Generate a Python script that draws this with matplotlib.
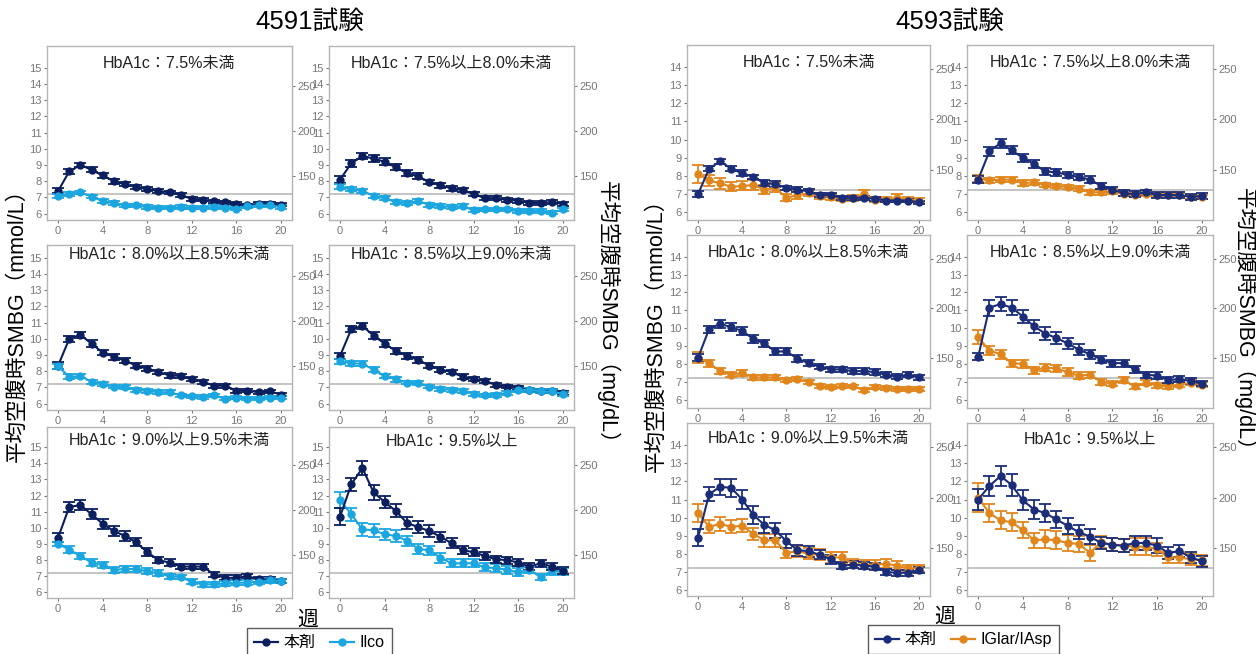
import matplotlib
matplotlib.use("Agg")
import matplotlib.pyplot as plt
from matplotlib.lines import Line2D

plt.rcParams['font.family'] = ['Liberation Sans', 'Noto Sans CJK JP', 'DejaVu Sans']

# ---- data (mmol/L, weeks 0..20) ----
weeks = list(range(21))
x_ticks = [0, 4, 8, 12, 16, 20]
mg_ticks = [150, 200, 250]
target_mmol = 7.22

titles = ["HbA1c：7.5%未満", "HbA1c：7.5%以上8.0%未満", "HbA1c：8.0%以上8.5%未満",
          "HbA1c：8.5%以上9.0%未満", "HbA1c：9.0%以上9.5%未満", "HbA1c：9.5%以上"]

# 4591 trial: 本剤 vs Ilco
a1_hon = [7.4, 8.6, 9.0, 8.7, 8.35, 8.0, 7.8, 7.65, 7.5, 7.4, 7.3, 7.15, 6.9, 6.85, 6.75, 6.7, 6.6, 6.5, 6.6, 6.6, 6.55]
a1_hon_se = [0.15, 0.15, 0.15, 0.15, 0.15, 0.15, 0.13, 0.13, 0.12, 0.12, 0.12, 0.12, 0.12, 0.1, 0.1, 0.1, 0.1, 0.1, 0.1, 0.1, 0.1]
a1_ilco = [7.1, 7.2, 7.3, 7.05, 6.75, 6.65, 6.5, 6.5, 6.4, 6.35, 6.35, 6.4, 6.35, 6.35, 6.4, 6.35, 6.3, 6.45, 6.5, 6.5, 6.4]
a1_ilco_se = [0.12, 0.12, 0.12, 0.12, 0.12, 0.12, 0.1, 0.1, 0.1, 0.1, 0.1, 0.1, 0.1, 0.1, 0.1, 0.1, 0.1, 0.1, 0.1, 0.1, 0.1]

a2_hon = [8.1, 9.1, 9.55, 9.4, 9.2, 8.85, 8.5, 8.3, 7.95, 7.75, 7.55, 7.45, 7.2, 6.95, 6.95, 6.85, 6.8, 6.65, 6.65, 6.7, 6.6]
a2_hon_se = [0.2, 0.2, 0.2, 0.2, 0.2, 0.18, 0.18, 0.18, 0.15, 0.15, 0.15, 0.15, 0.12, 0.12, 0.12, 0.12, 0.12, 0.12, 0.12, 0.12, 0.12]
a2_ilco = [7.65, 7.5, 7.4, 7.1, 6.95, 6.7, 6.65, 6.75, 6.55, 6.45, 6.4, 6.45, 6.2, 6.25, 6.25, 6.25, 6.15, 6.15, 6.15, 6.05, 6.25]
a2_ilco_se = [0.15, 0.12, 0.12, 0.12, 0.12, 0.12, 0.12, 0.12, 0.12, 0.12, 0.12, 0.12, 0.12, 0.1, 0.1, 0.1, 0.1, 0.1, 0.1, 0.1, 0.1]

a3_hon = [8.35, 10.0, 10.25, 9.7, 9.15, 8.9, 8.65, 8.35, 8.15, 7.95, 7.75, 7.7, 7.5, 7.35, 7.1, 7.1, 6.8, 6.8, 6.7, 6.75, 6.55]
a3_hon_se = [0.2, 0.2, 0.2, 0.2, 0.18, 0.18, 0.15, 0.15, 0.15, 0.15, 0.15, 0.12, 0.12, 0.12, 0.12, 0.12, 0.12, 0.1, 0.1, 0.1, 0.1]
a3_ilco = [8.3, 7.65, 7.7, 7.35, 7.2, 7.05, 7.0, 6.85, 6.8, 6.7, 6.7, 6.5, 6.45, 6.4, 6.5, 6.3, 6.35, 6.3, 6.3, 6.35, 6.35]
a3_ilco_se = [0.15, 0.15, 0.15, 0.12, 0.12, 0.12, 0.12, 0.12, 0.12, 0.12, 0.12, 0.1, 0.1, 0.1, 0.1, 0.1, 0.1, 0.1, 0.1, 0.1, 0.1]

a4_hon = [8.95, 10.6, 10.8, 10.2, 9.7, 9.25, 8.95, 8.7, 8.35, 8.1, 7.95, 7.65, 7.5, 7.4, 7.15, 7.05, 6.95, 6.85, 6.75, 6.8, 6.65]
a4_hon_se = [0.2, 0.2, 0.2, 0.2, 0.2, 0.18, 0.18, 0.18, 0.18, 0.15, 0.15, 0.15, 0.12, 0.12, 0.12, 0.12, 0.12, 0.12, 0.12, 0.12, 0.12]
a4_ilco = [8.6, 8.5, 8.45, 8.1, 7.7, 7.5, 7.3, 7.25, 7.05, 6.9, 6.85, 6.8, 6.6, 6.5, 6.55, 6.65, 6.85, 6.85, 6.75, 6.75, 6.6]
a4_ilco_se = [0.15, 0.15, 0.15, 0.15, 0.15, 0.15, 0.12, 0.12, 0.12, 0.12, 0.12, 0.12, 0.12, 0.12, 0.12, 0.12, 0.12, 0.12, 0.12, 0.12, 0.12]

a5_hon = [9.4, 11.3, 11.4, 10.85, 10.25, 9.8, 9.5, 9.1, 8.5, 8.0, 7.85, 7.6, 7.6, 7.6, 7.1, 6.9, 6.9, 7.0, 6.8, 6.8, 6.7]
a5_hon_se = [0.3, 0.3, 0.3, 0.3, 0.3, 0.3, 0.3, 0.25, 0.22, 0.2, 0.2, 0.18, 0.18, 0.18, 0.15, 0.15, 0.15, 0.15, 0.15, 0.15, 0.15]
a5_ilco = [9.0, 8.65, 8.25, 7.85, 7.7, 7.4, 7.45, 7.45, 7.3, 7.2, 7.0, 6.95, 6.65, 6.5, 6.5, 6.55, 6.6, 6.6, 6.65, 6.75, 6.7]
a5_ilco_se = [0.15, 0.2, 0.2, 0.2, 0.2, 0.18, 0.18, 0.18, 0.18, 0.18, 0.15, 0.15, 0.15, 0.15, 0.15, 0.15, 0.15, 0.15, 0.15, 0.15, 0.15]

a6_hon = [10.7, 12.7, 13.7, 12.2, 11.6, 11.05, 10.3, 10.05, 9.8, 9.45, 9.05, 8.6, 8.5, 8.25, 8.05, 8.0, 7.85, 7.6, 7.8, 7.6, 7.35]
a6_hon_se = [0.55, 0.4, 0.45, 0.45, 0.4, 0.4, 0.35, 0.35, 0.35, 0.3, 0.3, 0.25, 0.25, 0.25, 0.22, 0.22, 0.2, 0.2, 0.22, 0.2, 0.2]
a6_ilco = [11.7, 10.85, 9.9, 9.85, 9.6, 9.5, 9.2, 8.7, 8.6, 8.15, 7.8, 7.8, 7.8, 7.55, 7.5, 7.4, 7.25, 7.4, 6.95, 7.3, 7.3]
a6_ilco_se = [0.5, 0.4, 0.4, 0.4, 0.35, 0.35, 0.3, 0.3, 0.3, 0.3, 0.25, 0.25, 0.25, 0.25, 0.25, 0.25, 0.25, 0.2, 0.2, 0.2, 0.2]

# 4593 trial: 本剤 vs IGlar/IAsp
b1_hon = [7.0, 8.4, 8.8, 8.4, 8.15, 7.95, 7.6, 7.55, 7.35, 7.25, 7.15, 6.95, 6.95, 6.8, 6.8, 6.8, 6.75, 6.65, 6.65, 6.65, 6.55]
b1_hon_se = [0.15, 0.15, 0.15, 0.15, 0.15, 0.12, 0.15, 0.15, 0.12, 0.12, 0.12, 0.12, 0.12, 0.12, 0.12, 0.1, 0.1, 0.1, 0.1, 0.1, 0.1]
b1_iglar = [8.1, 7.75, 7.6, 7.4, 7.45, 7.5, 7.25, 7.35, 6.8, 6.95, 7.05, 6.9, 6.85, 6.75, 6.8, 7.0, 6.7, 6.7, 6.8, 6.7, 6.65]
b1_iglar_se = [0.5, 0.3, 0.3, 0.25, 0.25, 0.25, 0.25, 0.25, 0.2, 0.2, 0.15, 0.15, 0.15, 0.15, 0.15, 0.25, 0.15, 0.15, 0.2, 0.15, 0.15]

b2_hon = [7.8, 9.35, 9.8, 9.4, 9.0, 8.65, 8.25, 8.2, 8.05, 7.95, 7.8, 7.45, 7.25, 7.05, 7.0, 7.1, 6.95, 6.95, 6.95, 6.85, 6.9]
b2_hon_se = [0.2, 0.25, 0.25, 0.22, 0.22, 0.2, 0.2, 0.2, 0.18, 0.18, 0.18, 0.15, 0.15, 0.15, 0.15, 0.15, 0.15, 0.15, 0.15, 0.15, 0.15]
b2_iglar = [7.85, 7.75, 7.8, 7.8, 7.6, 7.65, 7.5, 7.45, 7.4, 7.3, 7.1, 7.1, 7.15, 7.0, 6.95, 7.0, 6.95, 6.95, 6.95, 6.85, 6.85]
b2_iglar_se = [0.2, 0.15, 0.15, 0.15, 0.15, 0.15, 0.12, 0.12, 0.12, 0.12, 0.12, 0.12, 0.12, 0.12, 0.12, 0.12, 0.12, 0.12, 0.12, 0.12, 0.12]

b3_hon = [8.35, 9.95, 10.25, 10.05, 9.85, 9.4, 9.15, 8.7, 8.7, 8.3, 8.05, 7.85, 7.7, 7.7, 7.6, 7.6, 7.55, 7.4, 7.3, 7.4, 7.25]
b3_hon_se = [0.2, 0.2, 0.22, 0.22, 0.22, 0.2, 0.2, 0.18, 0.18, 0.18, 0.15, 0.15, 0.15, 0.15, 0.15, 0.15, 0.15, 0.15, 0.15, 0.15, 0.15]
b3_iglar = [8.35, 8.05, 7.6, 7.4, 7.5, 7.25, 7.25, 7.25, 7.1, 7.15, 7.0, 6.75, 6.7, 6.75, 6.75, 6.55, 6.7, 6.65, 6.6, 6.6, 6.6]
b3_iglar_se = [0.3, 0.2, 0.15, 0.15, 0.15, 0.12, 0.12, 0.12, 0.12, 0.12, 0.12, 0.12, 0.12, 0.12, 0.1, 0.1, 0.1, 0.1, 0.1, 0.1, 0.1]

b4_hon = [8.4, 11.15, 11.35, 11.15, 10.65, 10.1, 9.7, 9.45, 9.15, 8.8, 8.55, 8.25, 8.05, 8.05, 7.7, 7.4, 7.35, 7.1, 7.15, 7.05, 6.9]
b4_hon_se = [0.2, 0.45, 0.4, 0.4, 0.38, 0.35, 0.35, 0.35, 0.3, 0.3, 0.25, 0.2, 0.2, 0.2, 0.2, 0.18, 0.18, 0.18, 0.18, 0.15, 0.15]
b4_iglar = [9.5, 8.75, 8.55, 8.05, 8.0, 7.65, 7.8, 7.75, 7.55, 7.35, 7.4, 7.0, 6.9, 7.1, 6.75, 6.95, 6.8, 6.75, 6.85, 6.95, 6.85]
b4_iglar_se = [0.4, 0.25, 0.25, 0.2, 0.2, 0.2, 0.2, 0.2, 0.2, 0.18, 0.18, 0.15, 0.15, 0.15, 0.15, 0.15, 0.15, 0.15, 0.15, 0.15, 0.15]

b5_hon = [8.9, 11.3, 11.7, 11.65, 11.0, 10.15, 9.6, 9.3, 8.7, 8.2, 8.15, 7.95, 7.7, 7.35, 7.4, 7.35, 7.3, 7.0, 6.95, 6.95, 7.1]
b5_hon_se = [0.45, 0.4, 0.45, 0.5, 0.5, 0.5, 0.45, 0.4, 0.4, 0.3, 0.3, 0.25, 0.25, 0.2, 0.2, 0.2, 0.2, 0.18, 0.18, 0.15, 0.15]
b5_iglar = [10.25, 9.5, 9.65, 9.5, 9.55, 9.1, 8.75, 8.75, 8.05, 8.15, 8.0, 7.95, 7.8, 7.8, 7.45, 7.4, 7.4, 7.45, 7.35, 7.2, 7.2]
b5_iglar_se = [0.5, 0.35, 0.4, 0.35, 0.35, 0.35, 0.35, 0.35, 0.3, 0.3, 0.3, 0.3, 0.3, 0.3, 0.25, 0.25, 0.25, 0.25, 0.25, 0.2, 0.2]

b6_hon = [11.0, 11.75, 12.3, 11.8, 10.95, 10.45, 10.25, 9.9, 9.55, 9.2, 8.95, 8.6, 8.5, 8.45, 8.6, 8.6, 8.45, 8.05, 8.15, 7.8, 7.6]
b6_hon_se = [0.6, 0.55, 0.55, 0.6, 0.55, 0.5, 0.5, 0.45, 0.45, 0.4, 0.4, 0.35, 0.35, 0.35, 0.4, 0.4, 0.4, 0.35, 0.35, 0.3, 0.3]
b6_iglar = [11.1, 10.25, 9.85, 9.75, 9.3, 8.75, 8.8, 8.75, 8.6, 8.55, 8.05, 8.65, 8.5, 8.45, 8.4, 8.4, 8.25, 7.8, 7.8, 7.7, 7.65]
b6_iglar_se = [0.8, 0.5, 0.5, 0.5, 0.45, 0.4, 0.5, 0.5, 0.45, 0.45, 0.45, 0.35, 0.35, 0.35, 0.45, 0.45, 0.35, 0.3, 0.3, 0.3, 0.3]

# ---- layout (pixel boxes: left, top, right, bottom) ----
W, H = 1256, 654
boxes_4591 = [(47, 46, 292, 220), (329, 46, 574, 220),
              (47, 245, 292, 410), (329, 245, 574, 410),
              (47, 427, 292, 598), (329, 427, 574, 598)]
boxes_4593 = [(687, 45, 930, 220), (967, 45, 1213, 220),
              (687, 235, 930, 408), (967, 235, 1213, 408),
              (687, 423, 930, 596), (967, 423, 1213, 596)]
ylims_4591 = [(5.6, 16.35), (5.6, 16.35), (5.6, 15.8), (5.6, 15.8), (5.65, 16.25), (5.65, 16.25)]
ylims_4593 = [(5.58, 15.19), (5.58, 15.19), (5.54, 15.21), (5.54, 15.21), (5.67, 15.23), (5.67, 15.23)]
title_off_4591 = [17, 17, 9, 9, 14, 14]
title_off_4593 = [17.5, 17.5, 17.5, 17.5, 16, 16]

NAVY_A = "#0b1f5e"
LIGHT = "#1ba6e0"
NAVY_B = "#1b2d78"
ORANGE = "#e0861c"
SPINE = "#b5b5b5"
TICK = "#777777"


def draw_panel(fig, box, ylim, yticks, title, toff, series):
    l, t, r, b = box
    ax = fig.add_axes([l / W, 1 - b / H, (r - l) / W, (b - t) / H])
    ax.axhline(target_mmol, color="#c4c4c4", lw=1.4, zorder=1)
    for vals, se, col in series:
        ax.errorbar(weeks, vals, yerr=se, color=col, ecolor=col, lw=1.5,
                    elinewidth=1.3, capsize=4.5, capthick=1.3,
                    marker="o", markersize=5, zorder=3)
    ax.set_xlim(-1, 21)
    ax.set_ylim(*ylim)
    ax.set_xticks(x_ticks)
    ax.set_yticks(yticks)
    for s in ax.spines.values():
        s.set_color(SPINE)
        s.set_linewidth(1.0)
    ax.tick_params(labelsize=8, labelcolor=TICK, color=TICK, length=2.5, width=0.8, pad=1.5)
    sec = ax.secondary_yaxis("right", functions=(lambda y: y * 18.0, lambda y: y / 18.0))
    sec.set_yticks(mg_ticks)
    sec.spines["right"].set_visible(False)
    sec.tick_params(labelsize=8, labelcolor=TICK, color=TICK, length=2.5, width=0.8, pad=1.5)
    ax.text(0.5, 1 - toff / (b - t), title, transform=ax.transAxes,
            ha="center", va="center", fontsize=11.5, color="#222222")
    return ax


fig = plt.figure(figsize=(W / 100, H / 100), dpi=100)

series_4591 = [
    [(a1_hon, a1_hon_se, NAVY_A), (a1_ilco, a1_ilco_se, LIGHT)],
    [(a2_hon, a2_hon_se, NAVY_A), (a2_ilco, a2_ilco_se, LIGHT)],
    [(a3_hon, a3_hon_se, NAVY_A), (a3_ilco, a3_ilco_se, LIGHT)],
    [(a4_hon, a4_hon_se, NAVY_A), (a4_ilco, a4_ilco_se, LIGHT)],
    [(a5_hon, a5_hon_se, NAVY_A), (a5_ilco, a5_ilco_se, LIGHT)],
    [(a6_ilco, a6_ilco_se, LIGHT), (a6_hon, a6_hon_se, NAVY_A)],
]
series_4593 = [
    [(b1_iglar, b1_iglar_se, ORANGE), (b1_hon, b1_hon_se, NAVY_B)],
    [(b2_iglar, b2_iglar_se, ORANGE), (b2_hon, b2_hon_se, NAVY_B)],
    [(b3_iglar, b3_iglar_se, ORANGE), (b3_hon, b3_hon_se, NAVY_B)],
    [(b4_iglar, b4_iglar_se, ORANGE), (b4_hon, b4_hon_se, NAVY_B)],
    [(b5_iglar, b5_iglar_se, ORANGE), (b5_hon, b5_hon_se, NAVY_B)],
    [(b6_iglar, b6_iglar_se, ORANGE), (b6_hon, b6_hon_se, NAVY_B)],
]

for i in range(6):
    draw_panel(fig, boxes_4591[i], ylims_4591[i], list(range(6, 16)), titles[i],
               title_off_4591[i], series_4591[i])
    draw_panel(fig, boxes_4593[i], ylims_4593[i], list(range(6, 15)), titles[i],
               title_off_4593[i], series_4593[i])

# group titles
fig.text(310 / W, 1 - 22 / H, "4591試験", ha="center", va="center", fontsize=18.5)
fig.text(950 / W, 1 - 22 / H, "4593試験", ha="center", va="center", fontsize=18.5)

# axis labels
ylab_l = "平均空腹時SMBG（mmol/L）"
ylab_r = "平均空腹時SMBG（mg/dL）"
fig.text(17 / W, 1 - 320 / H, ylab_l, rotation=90, ha="center", va="center", fontsize=15.5)
fig.text(608 / W, 1 - 318 / H, ylab_r, rotation=-90, ha="center", va="center", fontsize=15.5)
fig.text(656 / W, 1 - 330 / H, ylab_l, rotation=90, ha="center", va="center", fontsize=15.5)
fig.text(1245 / W, 1 - 325 / H, ylab_r, rotation=-90, ha="center", va="center", fontsize=15.5)
fig.text(308 / W, 1 - 620 / H, "週", ha="center", va="center", fontsize=15)
fig.text(945 / W, 1 - 617 / H, "週", ha="center", va="center", fontsize=15)

# legends
def handle(col):
    return Line2D([0], [0], color=col, lw=1.6, marker="o", markersize=5)

leg_kw = dict(loc="upper left", ncol=2, fontsize=11.5, frameon=True, fancybox=False,
              edgecolor="#333333", borderaxespad=0, handlelength=1.5,
              columnspacing=0.9, handletextpad=0.35, borderpad=0.45)
leg1 = fig.legend([handle(NAVY_A), handle(LIGHT)], ["本剤", "Ilco"],
                  bbox_to_anchor=(247 / W, 1 - 628 / H), **leg_kw)
leg2 = fig.legend([handle(NAVY_B), handle(ORANGE)], ["本剤", "IGlar/IAsp"],
                  bbox_to_anchor=(868 / W, 1 - 625 / H), **leg_kw)
for lg in (leg1, leg2):
    lg.get_frame().set_linewidth(1.0)

fig.savefig("out.png", dpi=100)
